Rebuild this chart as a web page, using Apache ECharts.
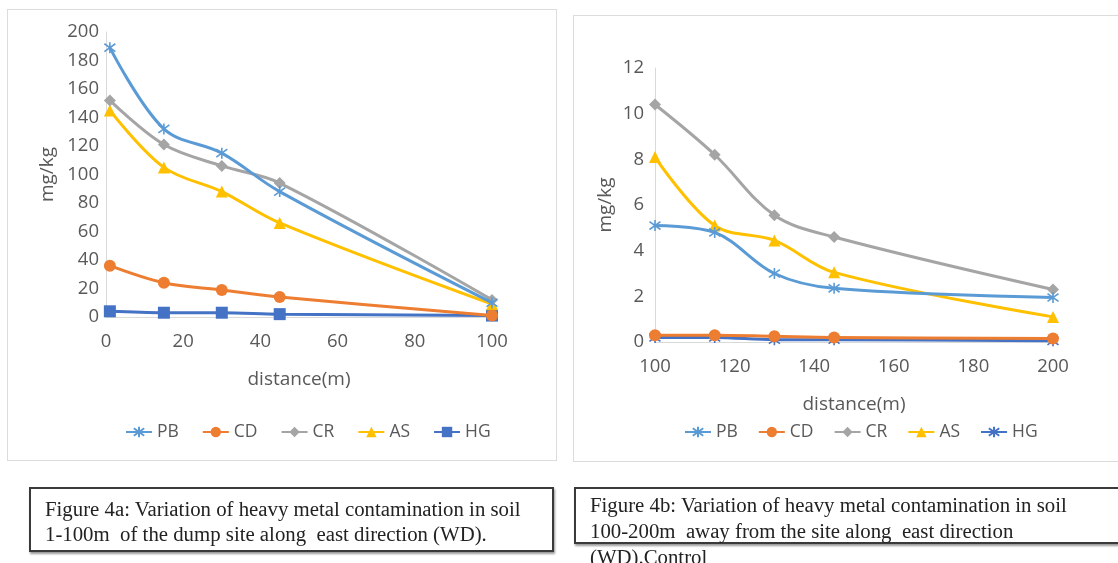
<!DOCTYPE html>
<html><head><meta charset="utf-8">
<script src="https://cdn.jsdelivr.net/npm/echarts@6/dist/echarts.min.js"></script>
<style>
html,body{margin:0;padding:0;background:#fff;width:1118px;height:563px;overflow:hidden;}
.panel{position:absolute;border:1px solid #dcdcdc;box-sizing:border-box;}
#chart{position:absolute;left:0;top:0;width:1118px;height:563px;}
.cap{position:absolute;font-family:"Liberation Serif","DejaVu Serif",serif;font-size:20.8px;color:#222;white-space:nowrap;}
.box{position:absolute;border:2px solid #3a3a3a;box-shadow:1px 2px 2px #999;box-sizing:border-box;}
</style></head>
<body>
<div class="panel" style="left:7px;top:9px;width:550px;height:452px;"></div>
<div class="panel" style="left:573px;top:15px;width:550px;height:447px;"></div>
<div id="chart"></div>
<div class="box" style="left:29px;top:487px;width:525px;height:65px;"></div>
<div class="cap" style="left:45px;top:496px;line-height:25px;">Figure 4a: Variation of heavy metal contamination in soil<br>1-100m&nbsp; of the dump site along&nbsp; east direction (WD).</div>
<div class="box" style="left:574px;top:487px;width:560px;height:57px;"></div>
<div class="cap" style="left:590px;top:492px;line-height:26px;">Figure 4b: Variation of heavy metal contamination in soil<br>100-200m&nbsp; away from the site along&nbsp; east direction<br>(WD).Control</div>
<script>
// Figure 4a data (distance 1-100 m)
const distA = [1, 15, 30, 45, 100];
const pbA = [189, 132, 115, 88, 10];
const cdA = [36, 24, 19, 14, 1];
const crA = [152, 121, 106, 94, 12];
const asA = [145, 105, 88, 66, 9];
const hgA = [4, 3, 3, 2, 1];
// Figure 4b data (distance 100-200 m)
const distB = [100, 115, 130, 145, 200];
const pbB = [5.1, 4.8, 3.0, 2.35, 1.95];
const cdB = [0.3, 0.3, 0.25, 0.2, 0.15];
const crB = [10.4, 8.2, 5.55, 4.6, 2.3];
const asB = [8.1, 5.1, 4.45, 3.05, 1.1];
const hgB = [0.2, 0.2, 0.1, 0.1, 0.05];
const names = ['PB', 'CD', 'CR', 'AS', 'HG'];

const colors = {PB:'#5B9BD5', CD:'#ED7D31', CR:'#A5A5A5', AS:'#FFC000', HG:'#4472C4'};
const star = 'path://M0,0L10,10M10,0L0,10M5,-2L5,12';
const symA = {PB:star, CD:'circle', CR:'diamond', AS:'triangle', HG:'rect'};
const symB = {PB:star, CD:'circle', CR:'diamond', AS:'triangle', HG:star};
const font = '"Open Sans", "Noto Sans", sans-serif';

function zip(xs, ys){ return xs.map((x,i)=>[x, ys[i]]); }

function mkSeries(idx, suffix, xs, arrs, syms){
  return names.map((n,i)=>{
    const isStar = syms[n] === star;
    return {
      name: n + suffix, type: 'line', xAxisIndex: idx, yAxisIndex: idx,
      data: zip(xs, arrs[i]), smooth: 0.35,
      symbol: syms[n], symbolSize: isStar ? 11 : 12,
      showSymbol: true,
      itemStyle: isStar ? {color: colors[n], borderColor: colors[n], borderWidth: 1.6} : {color: colors[n]},
      lineStyle: {width: 3, color: colors[n]},
      z: 10 - i
    };
  });
}

const axisLabel = {color:'#595959', fontFamily: font, fontSize: 18.5};
const axisLine = {show:true, lineStyle:{color:'#d9d9d9', width:1}};
const nameStyle = {color:'#595959', fontFamily:font, fontSize:19};
const legendText = {color:'#595959', fontFamily:font, fontSize:17.5};

const chart = echarts.init(document.getElementById('chart'), null, {renderer:'canvas'});
chart.setOption({
  backgroundColor: 'transparent',
  animation: false,
  grid: [
    {left:106, top:32, width:386, height:285},
    {left:655, top:68, width:398, height:274}
  ],
  xAxis: [
    {type:'value', gridIndex:0, min:0, max:100, interval:20, axisLine, axisTick:{show:false},
     splitLine:{show:false}, axisLabel:{...axisLabel, margin:15},
     name:'distance(m)', nameLocation:'middle', nameGap:53, nameTextStyle:nameStyle},
    {type:'value', gridIndex:1, min:100, max:200, interval:20, axisLine, axisTick:{show:false},
     splitLine:{show:false}, axisLabel:{...axisLabel, margin:15},
     name:'distance(m)', nameLocation:'middle', nameGap:53, nameTextStyle:nameStyle}
  ],
  yAxis: [
    {type:'value', gridIndex:0, min:0, max:200, interval:20, axisLine, axisTick:{show:false},
     splitLine:{show:false}, axisLabel:{...axisLabel, margin:7},
     name:'mg/kg', nameLocation:'middle', nameGap:49, nameRotate:90, nameTextStyle:nameStyle},
    {type:'value', gridIndex:1, min:0, max:12, interval:2, axisLine, axisTick:{show:false},
     splitLine:{show:false}, axisLabel:{...axisLabel, margin:11},
     name:'mg/kg', nameLocation:'middle', nameGap:40, nameRotate:90, nameTextStyle:nameStyle}
  ],
  legend: [
    {data:names.map(n=>({name:n})), left:120, top:418, itemWidth:26, itemHeight:13, itemGap:23,
     textStyle:legendText, selectedMode:false},
    {data:names.map(n=>({name:n + ' '})), left:679, top:418, itemWidth:26, itemHeight:13, itemGap:20,
     textStyle:legendText, selectedMode:false, formatter: n => n.trim()}
  ],
  series: [
    ...mkSeries(0, '', distA, [pbA, cdA, crA, asA, hgA], symA),
    ...mkSeries(1, ' ', distB, [pbB, cdB, crB, asB, hgB], symB)
  ]
});
</script>
</body></html>
